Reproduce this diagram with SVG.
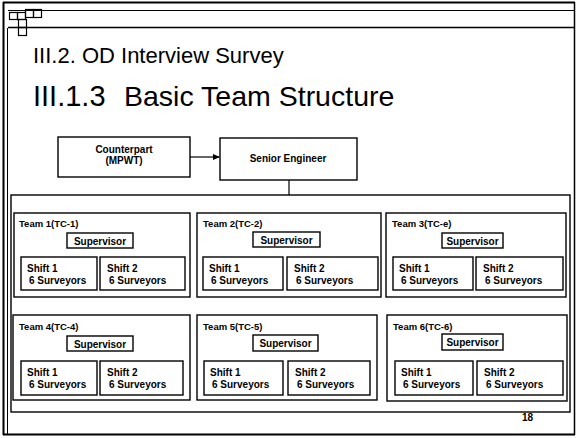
<svg xmlns="http://www.w3.org/2000/svg" width="576" height="438" viewBox="0 0 576 438">
<style>
.box{fill:#fff;stroke:#000;stroke-width:1.4}
.ln{fill:none;stroke:#000;stroke-width:1.2}
.frame{fill:none;stroke:#000}
.t{font-family:"Liberation Sans",Arial,sans-serif;font-weight:bold;font-size:10px;fill:#000}
.lbl{font-family:"Liberation Sans",Arial,sans-serif;font-weight:bold;font-size:9.5px;fill:#000}
.c{text-anchor:middle}
.title{font-family:"Liberation Sans",Arial,sans-serif;fill:#000}
</style>
<defs>
<marker id="ah" markerWidth="7" markerHeight="6" refX="6" refY="3" orient="auto" markerUnits="userSpaceOnUse">
<path d="M0,0 L7,3 L0,6 Z" fill="#000"/>
</marker>
</defs>
<rect width="576" height="438" fill="#fff"/>
<g id="page-frame">
<line class="frame" x1="3.5" y1="2" x2="3.5" y2="435" stroke-width="2"/>
<line class="frame" x1="7.5" y1="28" x2="7.5" y2="434" stroke-width="1"/>
<line class="frame" x1="3" y1="2.5" x2="575" y2="2.5" stroke-width="2"/>
<line class="frame" x1="8" y1="10.5" x2="575" y2="10.5" stroke-width="1"/>
<line class="frame" x1="8" y1="27.5" x2="575" y2="27.5" stroke-width="1.5"/>
<line class="frame" x1="574.5" y1="2" x2="574.5" y2="435" stroke-width="1.5"/>
<line class="frame" x1="3" y1="434.5" x2="575" y2="434.5" stroke-width="2"/>
<g id="logo" fill="none" stroke="#000" stroke-width="1.2">
<rect x="9.5" y="12.5" width="8" height="7"/>
<rect x="17.5" y="12.5" width="8" height="7"/>
<rect x="25.5" y="9.5" width="8" height="8"/>
<rect x="33.5" y="9.5" width="8" height="8"/>
<rect x="18.5" y="19.5" width="8" height="8"/>
<rect x="18.5" y="27.5" width="8" height="8"/>
</g>
</g>
<g id="titles">
<text class="title" x="33" y="63" font-size="22">III.2. OD Interview Survey</text>
<text class="title" x="33" y="106" font-size="29">III.1.3</text>
<text class="title" x="124" y="106" font-size="28.5">Basic Team Structure</text>
</g>
<g id="counterpart">
<rect class="box" x="58" y="137" width="132" height="40"/>
<text class="t c" x="124" y="153" font-size="8.5">Counterpart</text>
<text class="t c" x="124" y="164" font-size="8.5">(MPWT)</text>
</g>
<g id="senior-engineer">
<rect class="box" x="220" y="138" width="137" height="42"/>
<text class="t c" x="288" y="162" font-size="8.5">Senior Engineer</text>
</g>
<g id="container">
<rect class="box" x="11" y="195" width="559" height="217" fill="none"/>
</g>
<g id="connectors">
<line class="ln" x1="190" y1="157" x2="219" y2="157" marker-end="url(#ah)"/>
<line class="ln" x1="289" y1="180" x2="289" y2="195"/>
<path class="ln" d="M100,248 V253 M59,257 V253 H142 V257"/>
<path class="ln" d="M286.5,247 V253 M243,257 V253 H332 V257"/>
<path class="ln" d="M472.5,248 V253 M433,257 V253 H519 V257"/>
<path class="ln" d="M100,351 V357 M59,361 V357 H141 V361"/>
<path class="ln" d="M285.5,351 V357 M243,361 V357 H329 V361"/>
<path class="ln" d="M472.5,350 V357 M434,361 V357 H520 V361"/>
</g>
<g id="team1">
<rect class="box" x="14" y="213" width="176" height="84"/>
<text class="lbl" x="19" y="227">Team 1(TC-1)</text>
<rect class="box" x="67" y="233" width="66" height="15"/>
<text class="t c" x="100" y="244.5">Supervisor</text>
<rect class="box" x="21" y="257" width="76" height="33"/>
<text class="t" x="27" y="272">Shift 1</text>
<text class="t" x="29" y="284">6 Surveyors</text>
<rect class="box" x="100" y="257" width="85" height="33"/>
<text class="t" x="107" y="272">Shift 2</text>
<text class="t" x="109" y="284">6 Surveyors</text>
</g>
<g id="team2">
<rect class="box" x="197" y="213" width="184" height="84"/>
<text class="lbl" x="203" y="227">Team 2(TC-2)</text>
<rect class="box" x="253" y="232" width="67" height="15"/>
<text class="t c" x="286.5" y="243.5">Supervisor</text>
<rect class="box" x="203" y="257" width="80" height="33"/>
<text class="t" x="209" y="272">Shift 1</text>
<text class="t" x="211" y="284">6 Surveyors</text>
<rect class="box" x="287" y="257" width="91" height="33"/>
<text class="t" x="294" y="272">Shift 2</text>
<text class="t" x="296" y="284">6 Surveyors</text>
</g>
<g id="team3">
<rect class="box" x="386" y="213" width="180" height="84"/>
<text class="lbl" x="392" y="227">Team 3(TC-e)</text>
<rect class="box" x="442" y="233" width="61" height="15"/>
<text class="t c" x="472.5" y="244.5">Supervisor</text>
<rect class="box" x="393" y="257" width="80" height="33"/>
<text class="t" x="399" y="272">Shift 1</text>
<text class="t" x="401" y="284">6 Surveyors</text>
<rect class="box" x="476" y="257" width="87" height="33"/>
<text class="t" x="483" y="272">Shift 2</text>
<text class="t" x="485" y="284">6 Surveyors</text>
</g>
<g id="team4">
<rect class="box" x="13" y="315" width="177" height="85"/>
<text class="lbl" x="19" y="330">Team 4(TC-4)</text>
<rect class="box" x="67" y="336" width="66" height="15"/>
<text class="t c" x="100" y="347.5">Supervisor</text>
<rect class="box" x="21" y="361" width="76" height="34"/>
<text class="t" x="27" y="376">Shift 1</text>
<text class="t" x="29" y="388">6 Surveyors</text>
<rect class="box" x="100" y="361" width="83" height="34"/>
<text class="t" x="107" y="376">Shift 2</text>
<text class="t" x="109" y="388">6 Surveyors</text>
</g>
<g id="team5">
<rect class="box" x="197" y="315" width="180" height="85"/>
<text class="lbl" x="203" y="330">Team 5(TC-5)</text>
<rect class="box" x="253" y="335" width="65" height="16"/>
<text class="t c" x="285.5" y="347">Supervisor</text>
<rect class="box" x="204" y="361" width="79" height="34"/>
<text class="t" x="210" y="376">Shift 1</text>
<text class="t" x="212" y="388">6 Surveyors</text>
<rect class="box" x="288" y="361" width="82" height="34"/>
<text class="t" x="295" y="376">Shift 2</text>
<text class="t" x="297" y="388">6 Surveyors</text>
</g>
<g id="team6">
<rect class="box" x="387" y="315" width="180" height="86"/>
<text class="lbl" x="393" y="330">Team 6(TC-6)</text>
<rect class="box" x="442" y="334" width="61" height="16"/>
<text class="t c" x="472.5" y="346">Supervisor</text>
<rect class="box" x="395" y="361" width="78" height="34"/>
<text class="t" x="401" y="376">Shift 1</text>
<text class="t" x="403" y="388">6 Surveyors</text>
<rect class="box" x="477" y="361" width="86" height="34"/>
<text class="t" x="484" y="376">Shift 2</text>
<text class="t" x="486" y="388">6 Surveyors</text>
</g>
<g id="page-number">
<text class="t" x="522" y="421" font-size="7">18</text>
</g>
</svg>
